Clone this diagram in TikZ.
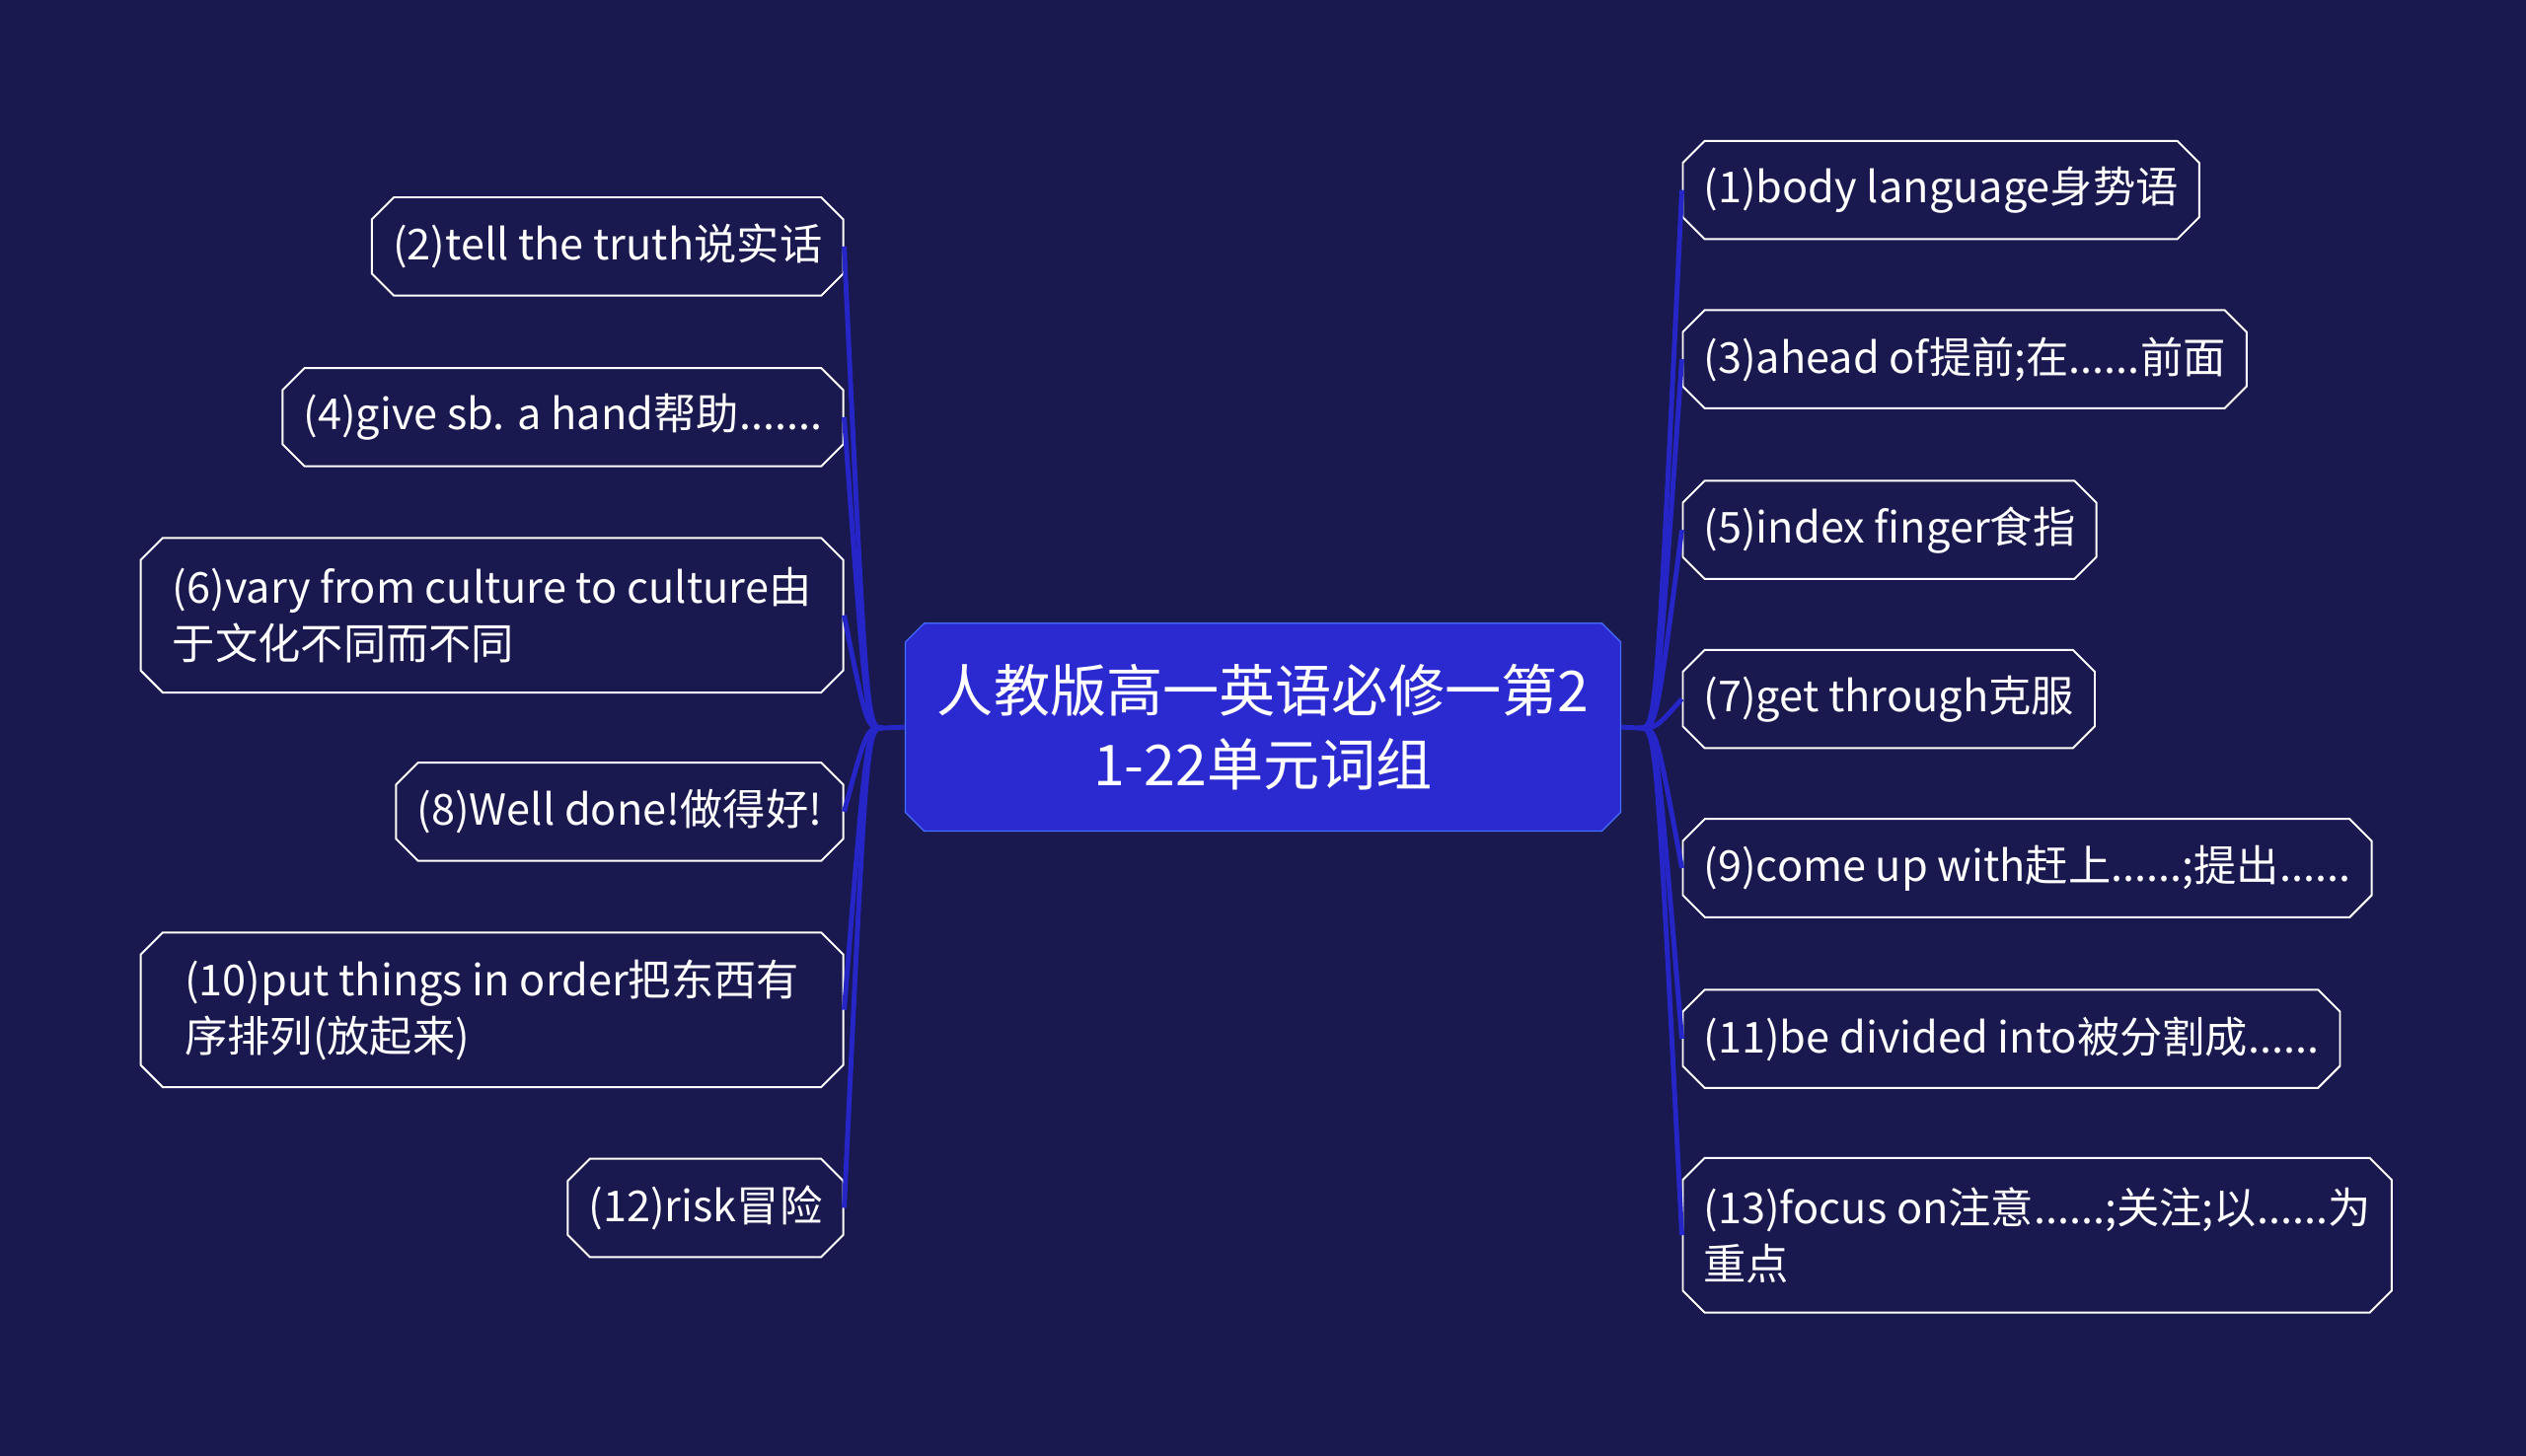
\documentclass[tikz,border=0pt]{standalone}
\usepackage{fontspec}
\setmainfont{Noto Sans CJK SC}
\usetikzlibrary{shapes.misc}
\definecolor{mybg}{RGB}{25,25,80}
\definecolor{mylink}{RGB}{38,38,200}
\definecolor{mycentre}{RGB}{42,42,208}
\definecolor{myedge}{RGB}{70,110,255}
\tikzset{every picture/.style={line width=0.75pt}}
\tikzset{
  leaf/.style={chamfered rectangle, chamfered rectangle xsep=10pt, draw=white, line width=1.2pt,
    fill=mybg, text=white, font=\fontsize{26.5}{35}\selectfont, inner xsep=3pt, inner ysep=6pt,
    minimum height=61pt, align=left},
  twoline/.style={minimum width=436pt, minimum height=96pt},
  link/.style={draw=mylink, line width=3pt},
}
\begin{document}
\begin{tikzpicture}[x=1pt,y=1pt,yscale=-1,xscale=1]
\fill[mybg] (0,0) rectangle (1568,904);
\useasboundingbox (0,0) rectangle (1568,904);

%centre
\node[chamfered rectangle, chamfered rectangle xsep=8pt, draw=myedge, fill=mycentre, text=white,
  minimum width=444pt, minimum height=129pt, align=center,
  font=\fontsize{35}{46}\selectfont] (centre) at (784,451.5) {人教版高一英语必修一第2\\1-22单元词组};

%left leaves
\node[leaf, anchor=east] (n2) at (524,153) {(2)tell the truth说实话};
\node[leaf, anchor=east] (n4) at (524,259) {(4)give sb. a hand帮助.......};
\node[leaf, anchor=east, twoline] (n6) at (524,382) {(6)vary from culture to culture由\\于文化不同而不同};
\node[leaf, anchor=east] (n8) at (524,504) {(8)Well done!做得好!};
\node[leaf, anchor=east, twoline] (n10) at (524,627) {(10)put things in order把东西有\\序排列(放起来)\hspace{110pt}};
\node[leaf, anchor=east] (n12) at (524,750) {(12)risk冒险};

%right leaves
\node[leaf, anchor=west] (n1) at (1044,118) {(1)body language身势语};
\node[leaf, anchor=west] (n3) at (1044,223) {(3)ahead of提前;在......前面};
\node[leaf, anchor=west] (n5) at (1044,329) {(5)index finger食指};
\node[leaf, anchor=west] (n7) at (1044,434) {(7)get through克服};
\node[leaf, anchor=west] (n9) at (1044,539) {(9)come up with赶上......;提出......};
\node[leaf, anchor=west] (n11) at (1044,645) {(11)be divided into被分割成......};
\node[leaf, anchor=west, twoline] (n13) at (1044,767) {(13)focus on注意......;关注;以......为\\重点};

\coordinate (lj) at (548,452);
\coordinate (rj) at (1018,452);
\draw[link] (centre.west) -- (lj);
\draw[link] (centre.east) -- (rj);
\foreach \n in {n2,n4,n6,n8,n10,n12}
  \draw[link] (lj) .. controls (538,452) .. (\n.east);
\foreach \n in {n1,n3,n5,n7,n9,n11,n13}
  \draw[link] (rj) .. controls (1028,452) .. (\n.west);
\end{tikzpicture}
\end{document}
